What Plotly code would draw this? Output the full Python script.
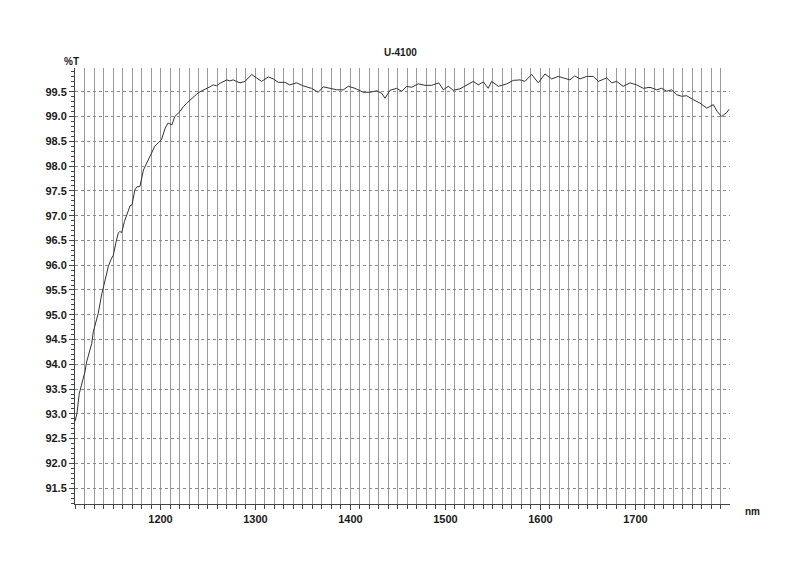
import plotly.graph_objects as go

wavelength_nm = [
    1110, 1112, 1114.5, 1117, 1120.5, 1122.3, 1125, 1127.6, 1129.3, 1132,
    1134.5, 1138, 1141, 1145, 1148, 1150.3, 1153, 1155.6, 1157, 1159.2,
    1162, 1166, 1168, 1170, 1173, 1175, 1178.4, 1182, 1185.5, 1189,
    1194, 1198, 1201, 1205, 1208, 1212, 1215, 1220.5, 1224, 1227.6,
    1231, 1234.5, 1238, 1241.6, 1245, 1248.6, 1252, 1255.6, 1259, 1262.6,
    1266, 1269.7, 1273, 1276.6, 1280, 1283.7, 1289, 1296, 1301, 1306.5,
    1313.5, 1318.7, 1324, 1331, 1336, 1343.4, 1350, 1359, 1366, 1371.4,
    1378.4, 1385.5, 1392.4, 1397.7, 1404.7, 1413.5, 1420.5, 1427.6, 1432.8, 1436.3,
    1441.6, 1448.6, 1453.9, 1459.2, 1464.4, 1471.4, 1478.4, 1485.5, 1493, 1497.7,
    1503, 1508.2, 1515.3, 1522.3, 1529.3, 1534.5, 1539.8, 1545, 1548.6, 1555.6,
    1564.4, 1571.4, 1578.4, 1583.7, 1590.7, 1597.7, 1604.7, 1611.8, 1618.7, 1624,
    1631, 1636, 1641.6, 1648.6, 1655.6, 1660.9, 1669.7, 1675, 1680.2, 1687,
    1694.2, 1701.2, 1708.2, 1715.3, 1722.3, 1727.6, 1732.8, 1738, 1743.4, 1748.6,
    1753.9, 1760.9, 1767.9, 1775, 1782, 1786.1, 1790.7, 1796, 1798.7,
]
transmittance = [
    92.85, 93.00, 93.41, 93.60, 93.85, 94.05, 94.25, 94.42, 94.66, 94.85,
    95.03, 95.40, 95.65, 95.97, 96.12, 96.20, 96.45, 96.65, 96.68, 96.66,
    96.88, 97.12, 97.20, 97.22, 97.52, 97.58, 97.59, 97.92, 98.06, 98.23,
    98.40, 98.48, 98.53, 98.77, 98.87, 98.83, 99.00, 99.10, 99.20, 99.27,
    99.33, 99.40, 99.45, 99.50, 99.53, 99.57, 99.60, 99.64, 99.62, 99.67,
    99.70, 99.74, 99.72, 99.74, 99.71, 99.68, 99.71, 99.85, 99.78, 99.71,
    99.80, 99.76, 99.69, 99.69, 99.64, 99.68, 99.62, 99.57, 99.49, 99.60,
    99.57, 99.54, 99.54, 99.61, 99.57, 99.49, 99.49, 99.52, 99.47, 99.37,
    99.53, 99.57, 99.51, 99.61, 99.59, 99.66, 99.63, 99.63, 99.68, 99.54,
    99.61, 99.53, 99.56, 99.64, 99.71, 99.64, 99.70, 99.57, 99.71, 99.61,
    99.66, 99.73, 99.74, 99.71, 99.85, 99.68, 99.86, 99.76, 99.81, 99.78,
    99.74, 99.82, 99.76, 99.81, 99.81, 99.71, 99.78, 99.68, 99.71, 99.61,
    99.68, 99.64, 99.57, 99.59, 99.54, 99.57, 99.51, 99.54, 99.44, 99.41,
    99.42, 99.34, 99.27, 99.17, 99.24, 99.10, 99.00, 99.08, 99.15,
]

x_tick_labels = [1200, 1300, 1400, 1500, 1600, 1700]
y_tick_labels = [91.5, 92.0, 92.5, 93.0, 93.5, 94.0, 94.5, 95.0, 95.5,
                 96.0, 96.5, 97.0, 97.5, 98.0, 98.5, 99.0, 99.5]

font_family = "Liberation Sans, Arial, sans-serif"

fig = go.Figure()
fig.add_trace(go.Scatter(
    x=wavelength_nm, y=transmittance, mode="lines",
    line=dict(color="#333333", width=1), showlegend=False, hoverinfo="skip",
))

# page body has an 8px default margin, so the figure is offset by 8px
fig.update_layout(
    width=800, height=582,
    margin=dict(l=67, r=78, t=60, b=86),
    paper_bgcolor="white", plot_bgcolor="white",
    font=dict(family=font_family, size=11, color="#1a1a1a"),
    showlegend=False,
)

fig.update_xaxes(
    range=[1110, 1799.5],
    tickmode="array", tickvals=x_tick_labels,
    ticktext=[f"<b>{v}</b>" for v in x_tick_labels],
    ticks="outside", ticklen=5, tickcolor="#444444", tickwidth=1,
    showgrid=True, gridcolor="#999999", gridwidth=1,
    showline=True, linecolor="#444444", linewidth=1,
    zeroline=False,
    tickfont=dict(family=font_family, size=11, color="#1a1a1a"),
    minor=dict(dtick=10, tick0=1110, ticks="outside", ticklen=4, tickcolor="#444444",
               showgrid=True, gridcolor="#999999", gridwidth=1),
)
fig.update_yaxes(
    range=[91.18, 99.98],
    tickmode="array", tickvals=y_tick_labels,
    ticktext=[f"<b>{v:.1f}</b>" for v in y_tick_labels],
    ticks="outside", ticklen=5, tickcolor="#444444", tickwidth=1,
    showgrid=True, gridcolor="#8a8a8a", gridwidth=1, griddash="dot",
    showline=True, linecolor="#444444", linewidth=1,
    zeroline=False,
    tickfont=dict(family=font_family, size=11, color="#1a1a1a"),
    minor=dict(dtick=0.1, tick0=91.2, ticks="outside", ticklen=3, tickcolor="#444444",
               showgrid=False),
)

fig.add_annotation(text="<b>U-4100</b>", xref="paper", yref="paper",
                   x=(400 - 75) / 655.0, y=1.0 + (68 - 53) / 436.0,
                   xanchor="center", yanchor="middle", showarrow=False,
                   font=dict(size=10, color="#1a1a1a"))
fig.add_annotation(text="<b>%T</b>", xref="paper", yref="paper",
                   x=(71 - 75) / 655.0, y=1.0 + (68 - 62) / 436.0,
                   xanchor="center", yanchor="middle", showarrow=False,
                   font=dict(size=10, color="#1a1a1a"))
fig.add_annotation(text="<b>nm</b>", xref="paper", yref="paper",
                   x=1.0 + (752 - 730) / 655.0, y=-(511 - 504) / 436.0,
                   xanchor="center", yanchor="middle", showarrow=False,
                   font=dict(size=10, color="#1a1a1a"))

fig.write_html("out.html")
